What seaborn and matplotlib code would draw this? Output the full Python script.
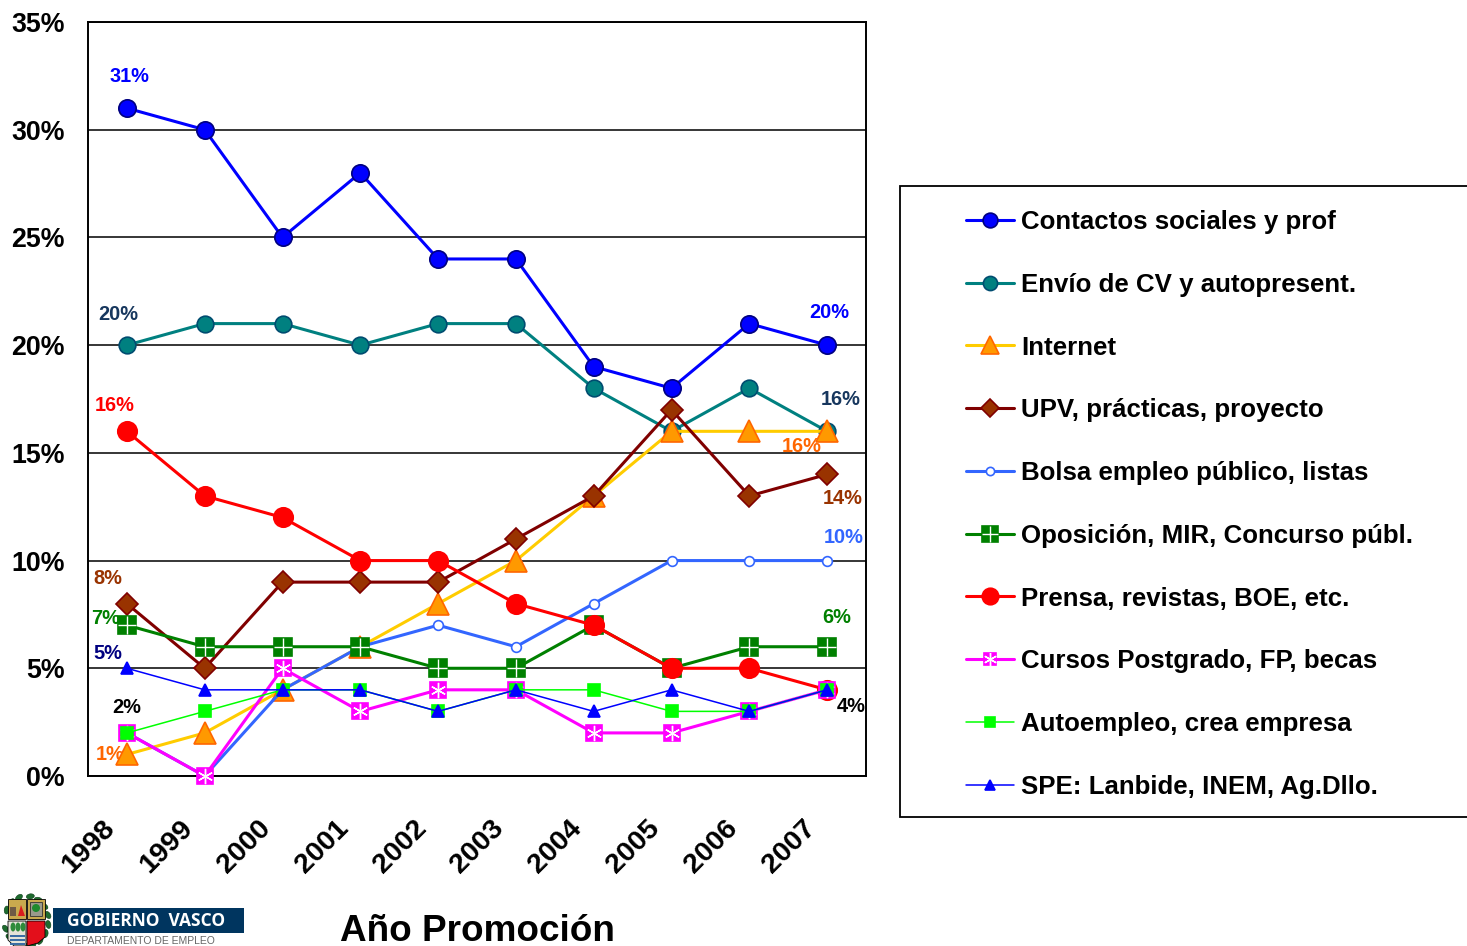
import numpy as np
import pandas as pd
import matplotlib
matplotlib.use("Agg")
import matplotlib.pyplot as plt
import seaborn as sns
from matplotlib.legend_handler import HandlerTuple
from matplotlib.lines import Line2D
from matplotlib.patches import Rectangle, Ellipse, Polygon
from matplotlib.transforms import ScaledTranslation

years = [1998, 1999, 2000, 2001, 2002, 2003, 2004, 2005, 2006, 2007]
y_ticks = [0, 5, 10, 15, 20, 25, 30, 35]

contactos = [31, 30, 25, 28, 24, 24, 19, 18, 21, 20]
envio = [20, 21, 21, 20, 21, 21, 18, 16, 18, 16]
internet = [1, 2, 4, 6, 8, 10, 13, 16, 16, 16]
upv = [8, 5, 9, 9, 9, 11, 13, 17, 13, 14]
bolsa = [2, 0, 4, 6, 7, 6, 8, 10, 10, 10]
oposicion = [7, 6, 6, 6, 5, 5, 7, 5, 6, 6]
prensa = [16, 13, 12, 10, 10, 8, 7, 5, 5, 4]
cursos = [2, 0, 5, 3, 4, 4, 2, 2, 3, 4]
autoempleo = [2, 3, 4, 4, 3, 4, 4, 3, 3, 4]
spe = [5, 4, 4, 4, 3, 4, 3, 4, 3, 4]

# name, values, line colour, marker, size, face, edge, line width, overlay marker
series = [
    ("Contactos sociales y prof", contactos, "#0000FF", "o", 12.5, "#0000FF", "#000080", 2.2, None),
    ("Envío de CV y autopresent.", envio, "#008080", "o", 12, "#008080", "#004C70", 2.2, None),
    ("Internet", internet, "#FFCC00", "^", 15.5, "#FF9900", "#FF6600", 2.2, None),
    ("UPV, prácticas, proyecto", upv, "#800000", "D", 11, "#993300", "#800000", 2.2, None),
    ("Bolsa empleo público, listas", bolsa, "#3366FF", "o", 7, "white", "#3366FF", 2.2, None),
    ("Oposición, MIR, Concurso públ.", oposicion, "#008000", "s", 13, "#008000", "#008000", 2.2, "+"),
    ("Prensa, revistas, BOE, etc.", prensa, "#FF0000", "o", 14, "#FF0000", "#FF0000", 2.2, None),
    ("Cursos Postgrado, FP, becas", cursos, "#FF00FF", "s", 11, "#FF00FF", "#FF00FF", 2.2, (6, 2, 0)),
    ("Autoempleo, crea empresa", autoempleo, "#00FF00", "s", 9, "#00FF00", "#00FF00", 1.1, None),
    ("SPE: Lanbide, INEM, Ag.Dllo.", spe, "#0000FF", "^", 8.5, "#0000FF", "#0000FF", 1.1, None),
]

# series index, year index, text, colour, x and y offset in pixels
labels = [
    (0, 0, "31%", "#0000FF", 3, 32),
    (1, 0, "20%", "#17375E", -9, 31),
    (6, 0, "16%", "#FF0000", -12, 26),
    (3, 0, "8%", "#993300", -19, 25),
    (5, 0, "7%", "#008000", -21, 7),
    (9, 0, "5%", "#000080", -19, 15),
    (8, 0, "2%", "black", 0, 25),
    (2, 0, "1%", "#FF6600", -17, 0),
    (0, 9, "20%", "#0000FF", 2, 33),
    (1, 9, "16%", "#17375E", 14, 32),
    (2, 9, "16%", "#FF6600", -25, -15),
    (3, 9, "14%", "#993300", 16, -24),
    (4, 9, "10%", "#3366FF", 17, 23),
    (5, 9, "6%", "#008000", 10, 29),
    (6, 9, "4%", "black", 24, -17),
]

sns.set_style("white")
plt.rcParams["font.family"] = ["Liberation Sans", "DejaVu Sans"]
plt.rcParams["font.weight"] = "bold"
plt.rcParams["text.color"] = "black"
plt.rcParams["xtick.color"] = "black"
plt.rcParams["ytick.color"] = "black"

W, H = 1467, 946
fig = plt.figure(figsize=(W / 100, H / 100), dpi=100, facecolor="white")
ax = fig.add_axes([88 / W, 1 - 776 / H, (866 - 88) / W, (776 - 22) / H])

handles = []
for i, (name, vals, col, mk, ms, face, edge, lw, over) in enumerate(series):
    df = pd.DataFrame({"year": years, "value": vals})
    sns.lineplot(data=df, x="year", y="value", ax=ax, color=col, linewidth=lw, marker=mk,
                 markersize=ms, markerfacecolor=face, markeredgecolor=edge,
                 markeredgewidth=1.2, errorbar=None, zorder=3 + i * 0.1, clip_on=False)
    leg_line = Line2D([], [], color=col, lw=lw, marker=mk, ms=ms * 0.85, mfc=face, mec=edge, mew=1.2)
    if over is not None:
        sns.lineplot(data=df, x="year", y="value", ax=ax, linewidth=0, marker=over, color="white",
                     markersize=ms, markeredgecolor="white", markeredgewidth=1,
                     errorbar=None, zorder=3.05 + i * 0.1, clip_on=False)
        handles.append((leg_line, Line2D([], [], ls="", marker=over, ms=ms * 0.85, mec="white", mew=1)))
    else:
        handles.append((leg_line,))

for s, j, text, col, dx, dy in labels:
    ax.annotate(text, (years[j], series[s][1][j]), xytext=(dx, dy), textcoords="offset pixels",
                ha="center", va="center", color=col, fontsize=14.4, fontweight="bold", zorder=2.5)

ax.set_xlim(1997.5, 2007.5)
ax.set_ylim(0, 35)
ax.set_yticks(y_ticks)
ax.set_yticklabels([f"{v}%" for v in y_ticks], fontsize=19.3, fontweight="bold")
ax.set_xticks(years)
ax.set_xticklabels(years, fontsize=20.5, fontweight="bold", rotation=45, ha="right",
                   rotation_mode="anchor")
ax.tick_params(axis="y", length=0, pad=16.5)
ax.tick_params(axis="x", length=0, pad=28)
shift = ScaledTranslation(-25 / 100, 0, fig.dpi_scale_trans)
for lab in ax.get_xticklabels():
    lab.set_transform(lab.get_transform() + shift)
ax.yaxis.grid(True, color="black", lw=1.1)
ax.xaxis.grid(False)
ax.set_axisbelow(True)
ax.set_xlabel("")
ax.set_ylabel("")
for sp in ax.spines.values():
    sp.set_visible(True)
    sp.set_color("black")
    sp.set_linewidth(1.4)

# overlay in pixel coordinates for the legend box, the axis title and the logo
over_ax = fig.add_axes([0, 0, 1, 1], zorder=-1)
over_ax.set_xlim(0, W)
over_ax.set_ylim(H, 0)
over_ax.axis("off")

over_ax.add_patch(Rectangle((900, 186), 600, 631, fc="white", ec="black", lw=1.3))
over_ax.text(477, 931, "Año Promoción", ha="center", va="center", fontsize=26.6, fontweight="bold")

over_ax.legend(handles, [s[0] for s in series], loc="upper left",
               bbox_to_anchor=(966, 210), bbox_transform=over_ax.transData,
               handler_map={tuple: HandlerTuple(ndivide=1, pad=0)},
               frameon=False, fontsize=18.6, labelspacing=1.5, handlelength=1.86,
               handletextpad=0.27, borderpad=0, borderaxespad=0, numpoints=1)

# logo
over_ax.add_patch(Rectangle((53, 908), 191, 25, fc="#00355F", ec="none"))
over_ax.text(146.5, 920.5, "GOBIERNO  VASCO", color="white", ha="center", va="center",
             fontsize=12.5, fontweight="bold", family=["Open Sans", "DejaVu Sans"])
over_ax.text(141, 941, "DEPARTAMENTO DE EMPLEO", color="#666666", ha="center", va="center",
             fontsize=7.5, fontweight="normal")
for ang in np.deg2rad(np.arange(-80, 270, 22)):
    if np.cos(ang) < -0.95 and np.sin(ang) < 0:
        continue
    over_ax.add_patch(Ellipse((26.5 + 22 * np.cos(ang), 921 + 25 * np.sin(ang)), 8, 5,
                              angle=np.rad2deg(ang) + 70, fc="#1E6B2E", ec="#0B3D18", lw=0.4))
over_ax.add_patch(Rectangle((8, 899), 18, 20, fc="#C9A94E", ec="black", lw=0.6))
over_ax.add_patch(Rectangle((27, 899), 18, 20, fc="#C9A94E", ec="black", lw=0.6))
over_ax.add_patch(Rectangle((30, 902), 12, 14, fc="#9A9A8C", ec="#333333", lw=0.6))
over_ax.add_patch(Ellipse((36, 908), 8, 8, fc="#1E8A2E", ec="none"))
over_ax.add_patch(Rectangle((10, 907), 6, 9, fc="#6F5A45", ec="none"))
over_ax.add_patch(Polygon([(18, 916), (21, 905), (25, 916)], fc="#D81E1E", ec="none"))
over_ax.add_patch(Polygon([(8, 921), (26, 921), (26, 946), (14, 946), (8, 940)],
                          fc="#E4E4D8", ec="black", lw=0.6))
for xx in [13, 18, 23]:
    over_ax.add_patch(Ellipse((xx, 927), 5, 9, fc="#2E8B3A", ec="none"))
for yy in [935, 939, 943]:
    over_ax.add_patch(Rectangle((10, yy), 15, 1.8, fc="#3A6EA5", ec="none"))
over_ax.add_patch(Polygon([(27, 921), (45, 921), (45, 937), (38, 943), (27, 946)],
                          fc="#E30F1B", ec="black", lw=0.6))

fig.savefig("out.png", dpi=100, facecolor="white")
